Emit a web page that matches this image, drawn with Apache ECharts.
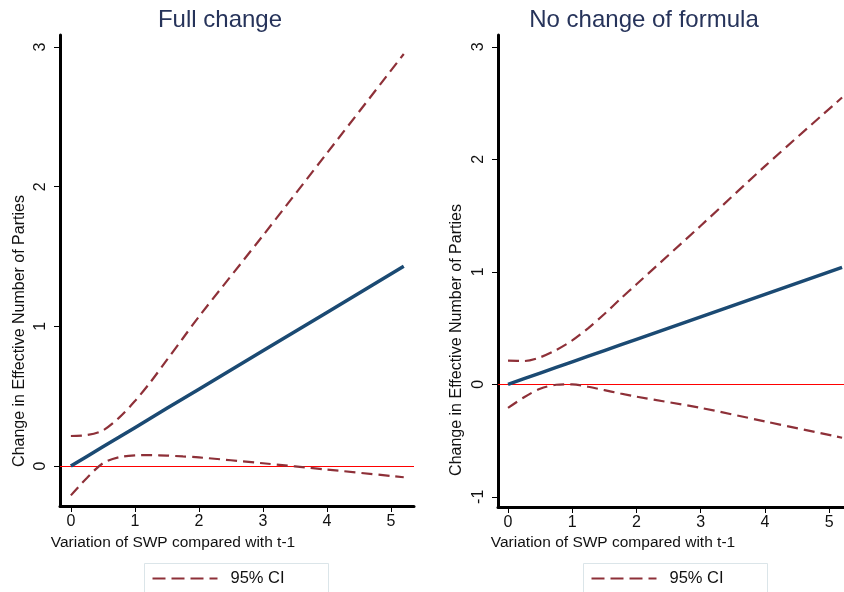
<!DOCTYPE html>
<html>
<head>
<meta charset="utf-8">
<script src="https://cdn.jsdelivr.net/npm/echarts@6/dist/echarts.min.js"></script>
<style>
  html, body { margin: 0; padding: 0; background: #fff; }
  #chart { width: 844px; height: 592px; }
</style>
</head>
<body>
<div id="chart"></div>
<script>
// Panel titles and axis texts
const panelTitles = ['Full change', 'No change of formula'];
const xTitle = 'Variation of SWP compared with t-1';
const yTitle = 'Change in Effective Number of Parties';
const ciLabel = '95% CI';

// Tick values
const xTicks = [0, 1, 2, 3, 4, 5];
const yTicksFull = [0, 1, 2, 3];
const yTicksNoChange = [-1, 0, 1, 2, 3];

// Panel 1: full change
const fullX = [0, 0.25, 0.5, 0.75, 1, 1.25, 1.5, 1.75, 2, 3, 4, 5.2];
const fullEffect = [0, 0.069, 0.138, 0.206, 0.275, 0.344, 0.413, 0.481, 0.55, 0.825, 1.1, 1.43];
const fullUpper = [0.215, 0.222, 0.255, 0.345, 0.465, 0.605, 0.76, 0.915, 1.07, 1.65, 2.24, 2.95];
const fullLower = [-0.21, -0.085, 0.02, 0.063, 0.076, 0.078, 0.075, 0.069, 0.062, 0.02, -0.025, -0.08];

// Panel 2: no change of formula
const noChangeX = [0, 0.25, 0.5, 0.75, 1, 1.25, 1.5, 1.75, 2, 3, 4, 5.2];
const noChangeEffect = [0, 0.05, 0.1, 0.15, 0.2, 0.25, 0.3, 0.35, 0.4, 0.6, 0.8, 1.04];
const noChangeUpper = [0.21, 0.207, 0.24, 0.305, 0.39, 0.5, 0.625, 0.76, 0.89, 1.41, 1.94, 2.55];
const noChangeLower = [-0.21, -0.115, -0.04, -0.004, 0.0, -0.022, -0.052, -0.082, -0.11, -0.21, -0.33, -0.475];

const FONT = '"Liberation Sans", Arial, sans-serif';
const ciColor = '#8e3038';
const effectColor = '#1b4a73';

function pairs(xs, ys) { return xs.map((x, i) => [x, ys[i]]); }

function xAxisFor(gridIndex, min, max) {
  return {
    gridIndex, type: 'value', min, max,
    axisLine: { show: true, onZero: false, lineStyle: { color: '#000', width: 3 } },
    axisTick: { show: true, customValues: xTicks, length: 6, lineStyle: { color: '#000', width: 1 } },
    axisLabel: { customValues: xTicks, fontFamily: FONT, fontSize: 16, color: '#111', margin: 8 },
    splitLine: { show: false }
  };
}
function yAxisFor(gridIndex, min, max, ticks) {
  return {
    gridIndex, type: 'value', min, max,
    axisLine: { show: true, onZero: false, lineStyle: { color: '#000', width: 3 } },
    axisTick: { show: true, customValues: ticks, length: 6, lineStyle: { color: '#000', width: 1 } },
    axisLabel: { customValues: ticks, rotate: 90, fontFamily: FONT, fontSize: 16, color: '#111', margin: 11 },
    splitLine: { show: false }
  };
}
function ciSeries(idx, data) {
  return {
    type: 'line', name: ciLabel, xAxisIndex: idx, yAxisIndex: idx, data,
    symbol: 'none', smooth: 0.3,
    lineStyle: { color: ciColor, width: 2.2, type: [11, 6] }, silent: true, z: 3
  };
}
function effectSeries(idx, data) {
  return {
    type: 'line', name: 'effect', xAxisIndex: idx, yAxisIndex: idx, data,
    symbol: 'none', lineStyle: { color: effectColor, width: 3.5 }, silent: true, z: 4,
    markLine: {
      silent: true, symbol: 'none', label: { show: false },
      lineStyle: { color: '#ff0000', width: 1, type: 'solid' },
      data: [{ yAxis: 0 }], z: 2
    }
  };
}
function legendBox(left) {
  return {
    type: 'group', left, top: 563,
    children: [
      { type: 'rect', shape: { x: 0, y: 0, width: 184, height: 40 },
        style: { fill: '#fff', stroke: '#dbe5e9', lineWidth: 1 } },
      { type: 'line', shape: { x1: 8, y1: 15, x2: 73, y2: 15 },
        style: { stroke: ciColor, lineWidth: 2.2, lineDash: [13, 6] } },
      { type: 'text', x: 86, y: 15,
        style: { text: ciLabel, font: '16.5px ' + FONT, fill: '#111', textVerticalAlign: 'middle' } }
    ]
  };
}

const chart = echarts.init(document.getElementById('chart'), null, { renderer: 'canvas' });
chart.setOption({
  backgroundColor: '#fff',
  animation: false,
  title: [
    { text: panelTitles[0], left: 215, top: 3, textAlign: 'center',
      textStyle: { fontFamily: FONT, fontSize: 24, fontWeight: 'normal', color: '#26335a' } },
    { text: panelTitles[1], left: 639, top: 3, textAlign: 'center',
      textStyle: { fontFamily: FONT, fontSize: 24, fontWeight: 'normal', color: '#26335a' } }
  ],
  grid: [
    { left: 60, top: 35, width: 354, height: 471 },
    { left: 498, top: 35, width: 346, height: 472 }
  ],
  xAxis: [xAxisFor(0, -0.17, 5.36), xAxisFor(1, -0.156, 5.23)],
  yAxis: [yAxisFor(0, -0.286, 3.086, yTicksFull), yAxisFor(1, -1.091, 3.106, yTicksNoChange)],
  series: [
    effectSeries(0, pairs(fullX, fullEffect)),
    ciSeries(0, pairs(fullX, fullUpper)),
    ciSeries(0, pairs(fullX, fullLower)),
    effectSeries(1, pairs(noChangeX, noChangeEffect)),
    ciSeries(1, pairs(noChangeX, noChangeUpper)),
    ciSeries(1, pairs(noChangeX, noChangeLower))
  ],
  graphic: [
    { type: 'text', x: 20, y: 331, rotation: Math.PI / 2,
      style: { text: yTitle, font: '16px ' + FONT, fill: '#111', textAlign: 'center', textVerticalAlign: 'middle' } },
    { type: 'text', x: 457, y: 340, rotation: Math.PI / 2,
      style: { text: yTitle, font: '16px ' + FONT, fill: '#111', textAlign: 'center', textVerticalAlign: 'middle' } },
    { type: 'text', x: 173, y: 543,
      style: { text: xTitle, font: '15.5px ' + FONT, fill: '#111', textAlign: 'center', textVerticalAlign: 'middle' } },
    { type: 'text', x: 613, y: 543,
      style: { text: xTitle, font: '15.5px ' + FONT, fill: '#111', textAlign: 'center', textVerticalAlign: 'middle' } },
    legendBox(144),
    legendBox(583)
  ]
});
</script>
</body>
</html>
